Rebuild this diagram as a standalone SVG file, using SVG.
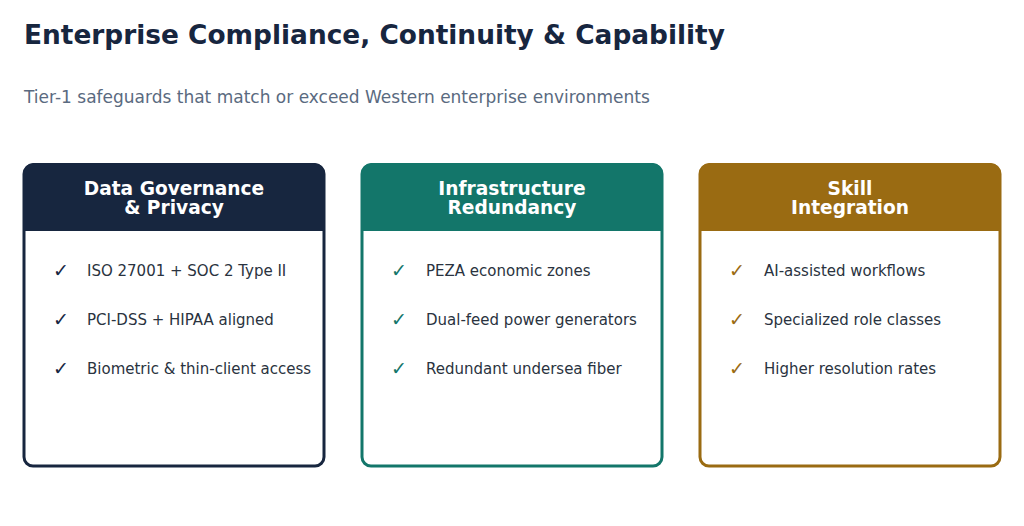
<svg xmlns="http://www.w3.org/2000/svg" width="1024" height="526" viewBox="0 0 1024 526">
<style>
text{font-family:"DejaVu Sans",sans-serif}
.t{font-size:26.4px;font-weight:bold;fill:#17263f}
.s{font-size:17px;fill:#5a6a80}
.h{font-size:18.6px;font-weight:bold;fill:#fff;text-anchor:middle}
.i{font-size:15px;fill:#2a3340}
.c{font-size:19px}
.card{fill:#fff;stroke-width:3}
</style>
<rect width="1024" height="526" fill="#fff"/>
<text x="24" y="44" class="t">Enterprise Compliance, Continuity &amp; Capability</text>
<text x="24" y="103" class="s">Tier-1 safeguards that match or exceed Western enterprise environments</text>
<g id="card1">
<rect x="24" y="165" width="300" height="301" rx="9" class="card" stroke="#17263f"/>
<path d="M24 231V172a9 9 0 0 1 9-9h282a9 9 0 0 1 9 9v59z" fill="#17263f"/>
<text x="174" y="195" class="h">Data Governance</text>
<text x="174" y="214" class="h">&amp; Privacy</text>
<g fill="#17263f" class="c"><text x="53" y="277">✓</text><text x="53" y="326">✓</text><text x="53" y="375">✓</text></g>
<text x="87" y="276" class="i">ISO 27001 + SOC 2 Type II</text>
<text x="87" y="325" class="i">PCI-DSS + HIPAA aligned</text>
<text x="87" y="374" class="i">Biometric &amp; thin-client access</text>
</g>
<g id="card2">
<rect x="362" y="165" width="300" height="301" rx="9" class="card" stroke="#13766a"/>
<path d="M362 231V172a9 9 0 0 1 9-9h282a9 9 0 0 1 9 9v59z" fill="#13766a"/>
<text x="512" y="195" class="h">Infrastructure</text>
<text x="512" y="214" class="h">Redundancy</text>
<g fill="#13766a" class="c"><text x="391" y="277">✓</text><text x="391" y="326">✓</text><text x="391" y="375">✓</text></g>
<text x="426" y="276" class="i">PEZA economic zones</text>
<text x="426" y="325" class="i">Dual-feed power generators</text>
<text x="426" y="374" class="i">Redundant undersea fiber</text>
</g>
<g id="card3">
<rect x="700" y="165" width="300" height="301" rx="9" class="card" stroke="#9a6b12"/>
<path d="M700 231V172a9 9 0 0 1 9-9h282a9 9 0 0 1 9 9v59z" fill="#9a6b12"/>
<text x="850" y="195" class="h">Skill</text>
<text x="850" y="214" class="h">Integration</text>
<g fill="#9a6b12" class="c"><text x="729" y="277">✓</text><text x="729" y="326">✓</text><text x="729" y="375">✓</text></g>
<text x="764" y="276" class="i">AI-assisted workflows</text>
<text x="764" y="325" class="i">Specialized role classes</text>
<text x="764" y="374" class="i">Higher resolution rates</text>
</g>
<g id="connectors"/>
</svg>
